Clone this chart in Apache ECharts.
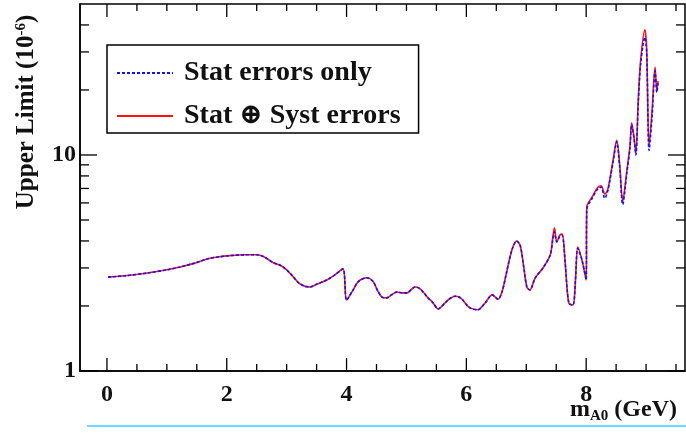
<!DOCTYPE html>
<html>
<head>
<meta charset="utf-8">
<script src="https://cdn.jsdelivr.net/npm/echarts@6/dist/echarts.min.js"></script>
<style>
  html, body { margin: 0; padding: 0; background: #fff; }
  #chart { width: 686px; height: 445px; }
</style>
</head>
<body>
<div id="chart"></div>
<script>
// m_A0 (GeV)
const masses = [0.02, 0.3, 0.67, 1.0, 1.22, 1.45, 1.67, 1.85, 2.05, 2.3, 2.5, 2.62, 2.77, 2.9, 3.0, 3.1, 3.2, 3.3, 3.39, 3.5,
  3.67, 3.8, 3.94, 4.0, 4.1, 4.2, 4.34, 4.44, 4.52, 4.59, 4.67, 4.75, 4.84, 4.93, 5.01, 5.08, 5.14, 5.21, 5.28, 5.36,
  5.43, 5.53, 5.64, 5.72, 5.81, 5.88, 5.94, 6.0, 6.06, 6.19, 6.31, 6.43, 6.53, 6.6, 6.67, 6.76, 6.84, 6.9, 6.96, 7.01,
  7.06, 7.15, 7.28, 7.4, 7.44, 7.47, 7.51, 7.56, 7.6, 7.65, 7.71, 7.78, 7.82, 7.86, 7.93, 8.0, 8.01, 8.1, 8.2, 8.25,
  8.31, 8.36, 8.45, 8.51, 8.56, 8.61, 8.68, 8.73, 8.76, 8.8, 8.83, 8.87, 8.91, 8.98, 9.01, 9.05, 9.1, 9.15, 9.18, 9.2];
// upper limit, stat + syst (10^-6)
const statSyst = [2.72, 2.76, 2.84, 2.94, 3.03, 3.15, 3.30, 3.37, 3.42, 3.45, 3.45, 3.38, 3.18, 3.08, 2.94, 2.75, 2.56, 2.47, 2.45, 2.52,
  2.64, 2.78, 2.97, 2.13, 2.35, 2.6, 2.7, 2.6, 2.35, 2.2, 2.18, 2.25, 2.32, 2.3, 2.3, 2.38, 2.45, 2.42, 2.32, 2.18,
  2.09, 1.94, 2.06, 2.16, 2.22, 2.2, 2.13, 2.03, 1.96, 1.92, 2.06, 2.25, 2.15, 2.35, 2.85, 3.63, 4.0, 3.8, 3.0, 2.45,
  2.37, 2.7, 3.0, 3.44, 4.1, 4.6, 3.96, 4.25, 4.3, 3.16, 2.06, 2.02, 2.6, 3.75, 3.26, 2.64, 5.74, 6.4, 7.1, 7.2,
  6.6, 6.9, 9.5, 11.7, 9.0, 6.1, 8.5, 10.9, 14.1, 12.0, 10.2, 18.0, 27.5, 38.0, 31.0, 11.0, 16.0, 25.5, 20.0, 22.0];
// upper limit, stat only (10^-6)
const statOnly = [2.72, 2.76, 2.84, 2.94, 3.03, 3.15, 3.30, 3.37, 3.42, 3.45, 3.45, 3.38, 3.18, 3.08, 2.94, 2.75, 2.56, 2.47, 2.45, 2.52,
  2.64, 2.78, 2.97, 2.13, 2.35, 2.6, 2.7, 2.6, 2.35, 2.2, 2.18, 2.25, 2.32, 2.3, 2.3, 2.38, 2.45, 2.42, 2.32, 2.18,
  2.09, 1.94, 2.06, 2.16, 2.22, 2.2, 2.13, 2.03, 1.96, 1.92, 2.06, 2.25, 2.15, 2.35, 2.85, 3.63, 4.0, 3.8, 3.0, 2.45,
  2.37, 2.7, 3.0, 3.44, 4.0, 4.4, 3.96, 4.2, 4.25, 3.16, 2.06, 2.02, 2.6, 3.7, 3.26, 2.64, 5.6, 6.3, 7.0, 7.1,
  6.3, 6.8, 9.3, 11.5, 8.8, 5.9, 8.3, 10.7, 13.8, 11.8, 10.0, 17.5, 26.5, 35.0, 30.0, 10.5, 15.0, 24.5, 19.5, 21.5];

const xLabels = [0, 2, 4, 6, 8];
const xMinor = [0.5, 1, 1.5, 2.5, 3, 3.5, 4.5, 5, 5.5, 6.5, 7, 7.5, 8.5, 9, 9.5];
const yMajor = [1, 10];
const yMinor = [2, 3, 4, 5, 6, 7, 8, 9, 20, 30, 40];

const seriesNames = ['Stat errors only', 'Stat \u2295 Syst errors'];

const font = 'Liberation Serif, DejaVu Serif, serif';
const chart = echarts.init(document.getElementById('chart'));

const option = {
  animation: false,
  grid: {
    left: 80, right: 1, top: 4, bottom: 74,
    show: true, borderColor: '#000', borderWidth: 1.5
  },
  xAxis: {
    type: 'value',
    min: -0.45,
    max: 9.65,
    splitLine: { show: false },
    axisLine: { onZero: false, lineStyle: { color: '#000', width: 1.5 } },
    axisTick: { show: false },
    axisLabel: {
      customValues: xLabels,
      margin: 12,
      color: '#111',
      fontFamily: font,
      fontWeight: 'bold',
      fontSize: 24
    }
  },
  yAxis: {
    type: 'log',
    min: 1,
    max: 50,
    splitLine: { show: false },
    axisLine: { onZero: false, lineStyle: { color: '#000', width: 1.5 } },
    axisTick: { show: false },
    axisLabel: {
      margin: 4,
      color: '#111',
      fontFamily: font,
      fontWeight: 'bold',
      fontSize: 24,
      formatter: v => (yMajor.some(m => Math.abs(m - v) < 1e-6) ? String(Math.round(v)) : '')
    }
  },
  legend: {
    left: 107,
    top: 45,
    orient: 'vertical',
    data: seriesNames,
    backgroundColor: '#fff',
    borderColor: '#000',
    borderWidth: 1.5,
    borderRadius: 0,
    padding: [14, 18, 3, 9],
    itemWidth: 56,
    itemHeight: 14,
    itemGap: 15,
    itemStyle: { opacity: 0 },
    textStyle: {
      fontFamily: font,
      fontWeight: 'bold',
      fontSize: 28,
      color: '#111',
      padding: [0, 0, 0, 6]
    }
  },
  series: [
    {
      name: seriesNames[1],
      type: 'line',
      data: masses.map((m, i) => [m, statSyst[i]]),
      showSymbol: false,
      symbol: 'none',
      smooth: 0.3,
      lineStyle: { color: '#ff1010', width: 1.6 },
      itemStyle: { color: '#ff1010' },
      z: 2
    },
    {
      name: seriesNames[0],
      type: 'line',
      data: masses.map((m, i) => [m, statOnly[i]]),
      showSymbol: false,
      symbol: 'none',
      smooth: 0.3,
      lineStyle: { color: '#1010ff', width: 1.6, type: [3, 2] },
      itemStyle: { color: '#1010ff' },
      z: 3
    }
  ]
};

chart.setOption(option);

// ROOT-style ticks on all four sides, placed through the axis scales
function buildTicks() {
  const g = [];
  const top = 4, bottom = 371, left = 80, right = 685;
  const tick = (x1, y1, x2, y2) => g.push({
    type: 'line', silent: true, z: 10,
    shape: { x1, y1, x2, y2 },
    style: { stroke: '#000', lineWidth: 1.3 }
  });
  xLabels.forEach(v => {
    const px = chart.convertToPixel({ xAxisIndex: 0 }, v);
    tick(px, bottom, px, bottom - 13);
    tick(px, top, px, top + 13);
  });
  xMinor.forEach(v => {
    const px = chart.convertToPixel({ xAxisIndex: 0 }, v);
    tick(px, bottom, px, bottom - 7);
    tick(px, top, px, top + 7);
  });
  yMajor.forEach(v => {
    const py = chart.convertToPixel({ yAxisIndex: 0 }, v);
    tick(left, py, left + 17, py);
    tick(right, py, right - 17, py);
  });
  yMinor.forEach(v => {
    const py = chart.convertToPixel({ yAxisIndex: 0 }, v);
    tick(left, py, left + 9, py);
    tick(right, py, right - 9, py);
  });

  // axis titles
  g.push({
    type: 'text', silent: true,
    x: 27, y: 112, rotation: Math.PI / 2,
    style: {
      text: '{a|Upper Limit (10}{s|-6}{a|)}',
      align: 'center', verticalAlign: 'middle',
      fill: '#111',
      rich: {
        a: { fontFamily: font, fontWeight: 'bold', fontSize: 25, fill: '#111' },
        s: { fontFamily: font, fontWeight: 'bold', fontSize: 15, fill: '#111', padding: [0, 0, 12, 0] }
      }
    }
  });
  g.push({
    type: 'text', silent: true,
    x: 677, y: 410,
    style: {
      text: '{a|m}{s|A0}{a| (GeV)}',
      align: 'right', verticalAlign: 'middle',
      fill: '#111',
      rich: {
        a: { fontFamily: font, fontWeight: 'bold', fontSize: 24, fill: '#111' },
        s: { fontFamily: font, fontWeight: 'bold', fontSize: 15, fill: '#111', padding: [12, 0, 0, 0] }
      }
    }
  });
  // light blue rule under the figure
  g.push({
    type: 'line', silent: true,
    shape: { x1: 87, y1: 426, x2: 686, y2: 426 },
    style: { stroke: '#6fd8ff', lineWidth: 2 }
  });
  return g;
}

chart.setOption({ graphic: buildTicks() });
</script>
</body>
</html>
